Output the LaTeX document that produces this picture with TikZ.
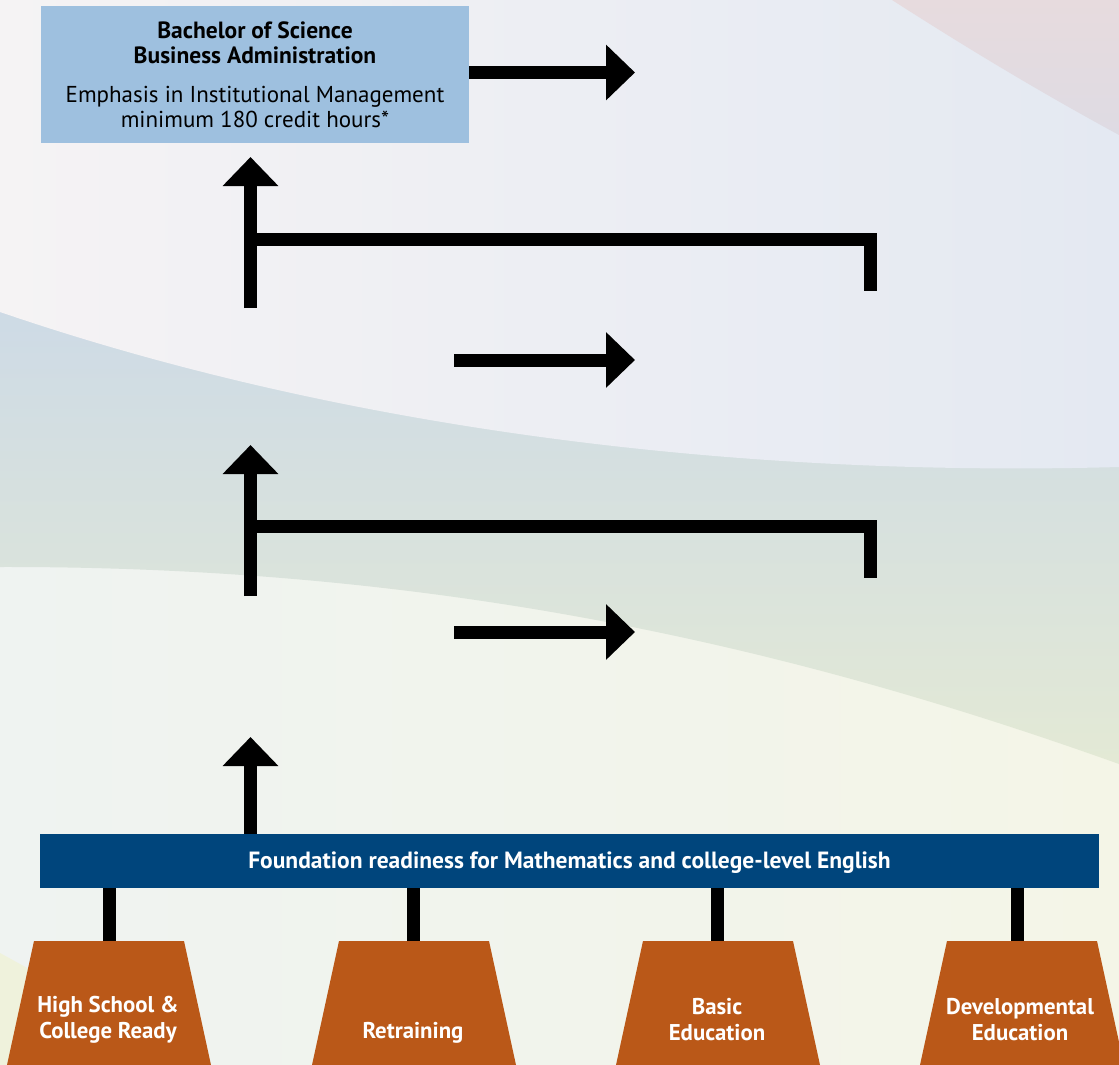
\documentclass[tikz,border=0pt]{standalone}
\usepackage{fontspec}
\setmainfont{PT Sans}
\usetikzlibrary{arrows.meta}
\definecolor{boxblue}{HTML}{9EC0DF}
\definecolor{navy}{HTML}{00457C}
\definecolor{rust}{HTML}{BA5818}
\definecolor{uptl}{HTML}{F5F3F4}
\definecolor{uptr}{HTML}{E4E9F2}
\definecolor{bandt}{HTML}{CDDAE6}
\definecolor{bandb}{HTML}{E3E9D5}
\definecolor{lowl}{HTML}{EFF3F1}
\definecolor{lowr}{HTML}{F4F5E7}
\definecolor{pinkt}{HTML}{E7DBDE}
\definecolor{pinkb}{HTML}{DEDBE3}
\definecolor{paleyel}{HTML}{EFF2DC}
\begin{document}
\begin{tikzpicture}[x=1pt,y=-1pt,
  arr/.style={line width=13pt,-{Triangle[length=29pt,width=54pt]}},
  conn/.style={line width=13pt},
  topbox/.style={fill=boxblue,minimum width=428pt,minimum height=137pt,inner sep=0pt,align=center,
    font=\fontsize{23}{25.5}\selectfont},
  barbox/.style={fill=navy,minimum width=1059pt,minimum height=54pt,inner sep=0pt,text=white,
    font=\fontsize{23.5}{24}\selectfont\bfseries},
  trapfill/.style={fill=rust},
  traptext/.style={text=white,align=center,inner sep=0pt,font=\fontsize{22.8}{26}\selectfont\bfseries}
]
\useasboundingbox (0,0) rectangle (1119,1065);
% background
\shade[left color=lowl,right color=lowr] (0,0) rectangle (1119,1065);
\shade[top color=bandt,bottom color=bandb] (0,300) -- (0,567) .. controls (450,566) and (800,650) .. (1119,764) -- (1119,300) -- cycle;
\shade[left color=uptl,right color=uptr] (0,0) -- (0,312) .. controls (330,425) and (720,478) .. (1119,467) -- (1119,0) -- cycle;
\shade[top color=pinkt,bottom color=pinkb] (892,0) .. controls (970,50) and (1040,92) .. (1119,135) -- (1119,0) -- cycle;
\fill[paleyel] (0,953) -- (40,975) -- (50,1065) -- (0,1065) -- cycle;

% top box
\node[topbox] (bs) at (255,74.5) {\textbf{\fontsize{23.5}{25.5}\selectfont Bachelor of Science}\\\textbf{\fontsize{23.5}{25.5}\selectfont Business Administration}\\[13pt]
  Emphasis in Institutional Management\\minimum 180 credit hours*};

% foundation bar
\node[barbox] (fb) at (569.5,861) {\raisebox{-7.5pt}[0pt][0pt]{Foundation readiness for Mathematics and college-level English}};

% coordinates
\coordinate (a1e) at (635,72.5);
\coordinate (v1s) at (250.5,308);
\coordinate (v1e) at (250.5,157);
\coordinate (b1l) at (250.5,239.5);
\coordinate (b1c) at (870.5,239.5);
\coordinate (b1r) at (870.5,291);
\coordinate (a2s) at (454,360);
\coordinate (a2e) at (635,360);
\coordinate (v2s) at (250.5,596);
\coordinate (v2e) at (250.5,445);
\coordinate (b2l) at (250.5,526.5);
\coordinate (b2c) at (870.5,526.5);
\coordinate (b2r) at (870.5,578);
\coordinate (a3s) at (454,632);
\coordinate (a3e) at (635,632);
\coordinate (v3e) at (250.5,737);

% arrows
\draw[arr] ([yshift=2pt]bs.east) -- (a1e);
\draw[arr] (v1s) -- (v1e);
\draw[conn] (b1l) -- (b1c) -- (b1r);
\draw[arr] (a2s) -- (a2e);
\draw[arr] (v2s) -- (v2e);
\draw[conn] (b2l) -- (b2c) -- (b2r);
\draw[arr] (a3s) -- (a3e);
\draw[arr] (v3e |- fb.north) -- (v3e);

% trapezoids
\foreach \cx/\nm in {109/t1,414/t2,718/t3,1022/t4}{
  \fill[trapfill] (\cx-75,941) -- (\cx+75,941) -- (\cx+102,1065) -- (\cx-102,1065) -- cycle;
  \coordinate (\nm) at (\cx,941);
}
\coordinate (c1) at (109.5,941);
\coordinate (c2) at (413.5,941);
\coordinate (c3) at (717.5,941);
\coordinate (c4) at (1017.5,941);
\foreach \c in {c1,c2,c3,c4}{
  \draw[conn] (\c) -- (\c |- fb.south);
}
\node[traptext] (l1) at (108,1020) {High School \&\\College Ready};
\node[traptext] (l2) at (413,1033) {Retraining};
\node[traptext] (l3) at (717,1020) {Basic\\Education};
\node[traptext] (l4) at (1020,1020) {Developmental\\Education};
\end{tikzpicture}
\end{document}
